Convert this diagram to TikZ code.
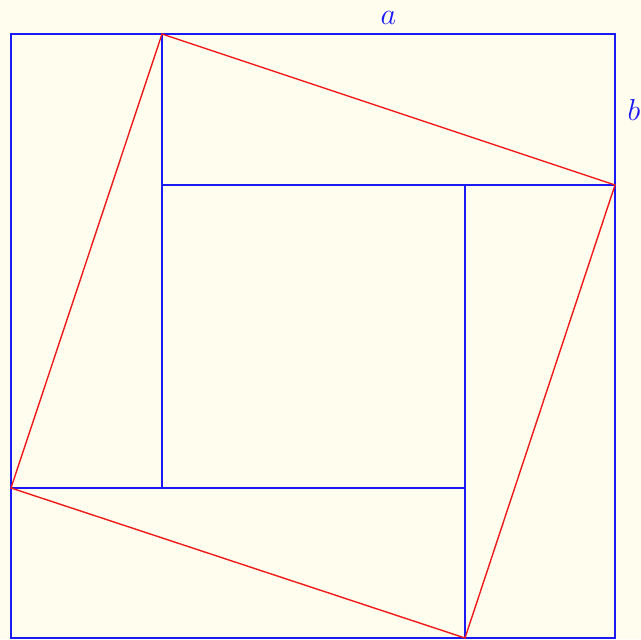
\documentclass[tikz,border=0pt]{standalone}
\usepackage{tikz}
\usetikzlibrary{positioning,calc}
\definecolor{pgbg}{HTML}{FFFDEE}
\definecolor{pgblue}{HTML}{1A1AF5}
\definecolor{pgred}{HTML}{F01A1A}

\begin{document}
\begin{tikzpicture}[x=0.02cm, y=0.02cm,
  edge/.style={draw=pgblue, line width=1.1pt},
  hyp/.style={draw=pgred, line width=0.8pt},
  lbl/.style={text=pgblue, font=\fontsize{19}{21}\selectfont, inner sep=1pt}]
% background and bounding box
\fill[pgbg] (0,0) rectangle (641,639);
\useasboundingbox (0,0) rectangle (641,639);
% corners of the big square
\coordinate (sw) at (11,1);
\coordinate (se) at (615,1);
\coordinate (ne) at (615,605);
\coordinate (nw) at (11,605);
% points where the tilted square meets the sides
\coordinate (pt) at (162,605);
\coordinate (pr) at (615,454);
\coordinate (pb) at (465,1);
\coordinate (pl) at (11,151);
% corners of the inner square
\coordinate (ia) at (162,454);
\coordinate (ib) at (465,454);
\coordinate (ic) at (465,151);
\coordinate (id) at (162,151);
\draw[edge] (sw) rectangle (ne);
\draw[edge] (pt) -- (id);
\draw[edge] (pl) -- (ic);
\draw[edge] (ia) -- (pr);
\draw[edge] (ib) -- (pb);
\draw[hyp] (pt) -- (pr) -- (pb) -- (pl) -- cycle;
\node[lbl, above=4pt] (la) at ($(pt)!0.5!(ne)$) {$a$};
\node[lbl, right=6pt] (lb) at ($(ne)!0.5!(pr)$) {$b$};
\end{tikzpicture}
\end{document}
